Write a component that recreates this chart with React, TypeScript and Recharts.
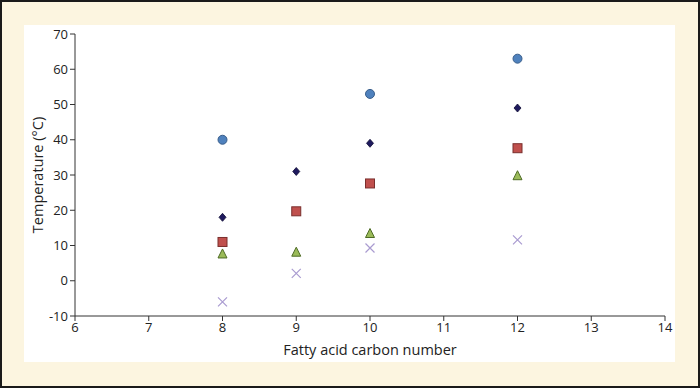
import { ScatterChart, Scatter, XAxis, YAxis } from 'recharts';

const carbonNumbers = [8, 9, 10, 12];
const seriesCircle = [40, null, 53, 63];
const seriesDiamond = [18, 31, 39, 49];
const seriesSquare = [11, 19.7, 27.6, 37.6];
const seriesTriangle = [7.6, 8.1, 13.4, 29.8];
const seriesCross = [-6, 2.1, 9.3, 11.6];

const xTicks = [6, 7, 8, 9, 10, 11, 12, 13, 14];
const yTicks = [-10, 0, 10, 20, 30, 40, 50, 60, 70];

const toPoints = (vals: (number | null)[]) =>
  carbonNumbers
    .map((x, i) => ({ x, y: vals[i] }))
    .filter((p) => p.y !== null);

const font = '"Open Sans", "Liberation Sans", sans-serif';

const Circle = (p: any) => (
  <circle cx={p.cx} cy={p.cy} r={4.5} fill="#4F81BD" stroke="#385D8A" strokeWidth={1} />
);
const Diamond = (p: any) => (
  <path
    d={`M${p.cx},${p.cy - 4} L${p.cx + 3.5},${p.cy} L${p.cx},${p.cy + 4} L${p.cx - 3.5},${p.cy} Z`}
    fill="#1F1A5E"
    stroke="#0E0B33"
    strokeWidth={0.8}
  />
);
const Square = (p: any) => (
  <rect x={p.cx - 4.5} y={p.cy - 4.5} width={9} height={9} fill="#C0504D" stroke="#7A2F2D" strokeWidth={1} />
);
const Triangle = (p: any) => (
  <path
    d={`M${p.cx},${p.cy - 5} L${p.cx + 4.5},${p.cy + 4} L${p.cx - 4.5},${p.cy + 4} Z`}
    fill="#9BBB59"
    stroke="#4E6B25"
    strokeWidth={1}
  />
);
const Cross = (p: any) => (
  <path
    d={`M${p.cx - 4.5},${p.cy - 4.5} L${p.cx + 4.5},${p.cy + 4.5} M${p.cx + 4.5},${p.cy - 4.5} L${p.cx - 4.5},${p.cy + 4.5}`}
    stroke="#A99BD0"
    strokeWidth={1.2}
    fill="none"
  />
);

export default function App() {
  return (
    <div
      style={{
        position: 'absolute',
        left: 0,
        top: 0,
        width: 700,
        height: 388,
        boxSizing: 'border-box',
        border: '2px solid #1a1a1a',
        background: '#FCF5E0',
        fontFamily: font,
      }}
    >
      <div style={{ position: 'absolute', left: 22, top: 23, width: 651, height: 337, background: '#fff' }}>
        <ScatterChart width={651} height={337} margin={{ top: 9, right: 10, bottom: 0, left: 0 }}>
          <XAxis
            type="number"
            dataKey="x"
            domain={[6, 14]}
            ticks={xTicks}
            allowDataOverflow
            stroke="#333"
            tickSize={5}
            height={46}
            tick={{ fill: '#222', fontSize: 13, fontFamily: font }}
            label={{ value: 'Fatty acid carbon number', position: 'insideBottom', offset: 7, fill: '#222', fontSize: 14.5, fontFamily: font }}
          />
          <YAxis
            type="number"
            dataKey="y"
            domain={[-10, 70]}
            ticks={yTicks}
            allowDataOverflow
            stroke="#333"
            tickSize={5}
            width={51}
            tick={{ fill: '#222', fontSize: 13, fontFamily: font }}
            label={{ value: 'Temperature (°C)', angle: -90, position: 'insideLeft', offset: 14, fill: '#222', fontSize: 14.5, fontFamily: font, style: { textAnchor: 'middle' } }}
          />
          <Scatter data={toPoints(seriesCircle)} shape={Circle} isAnimationActive={false} />
          <Scatter data={toPoints(seriesDiamond)} shape={Diamond} isAnimationActive={false} />
          <Scatter data={toPoints(seriesSquare)} shape={Square} isAnimationActive={false} />
          <Scatter data={toPoints(seriesTriangle)} shape={Triangle} isAnimationActive={false} />
          <Scatter data={toPoints(seriesCross)} shape={Cross} isAnimationActive={false} />
        </ScatterChart>
      </div>
    </div>
  );
}
